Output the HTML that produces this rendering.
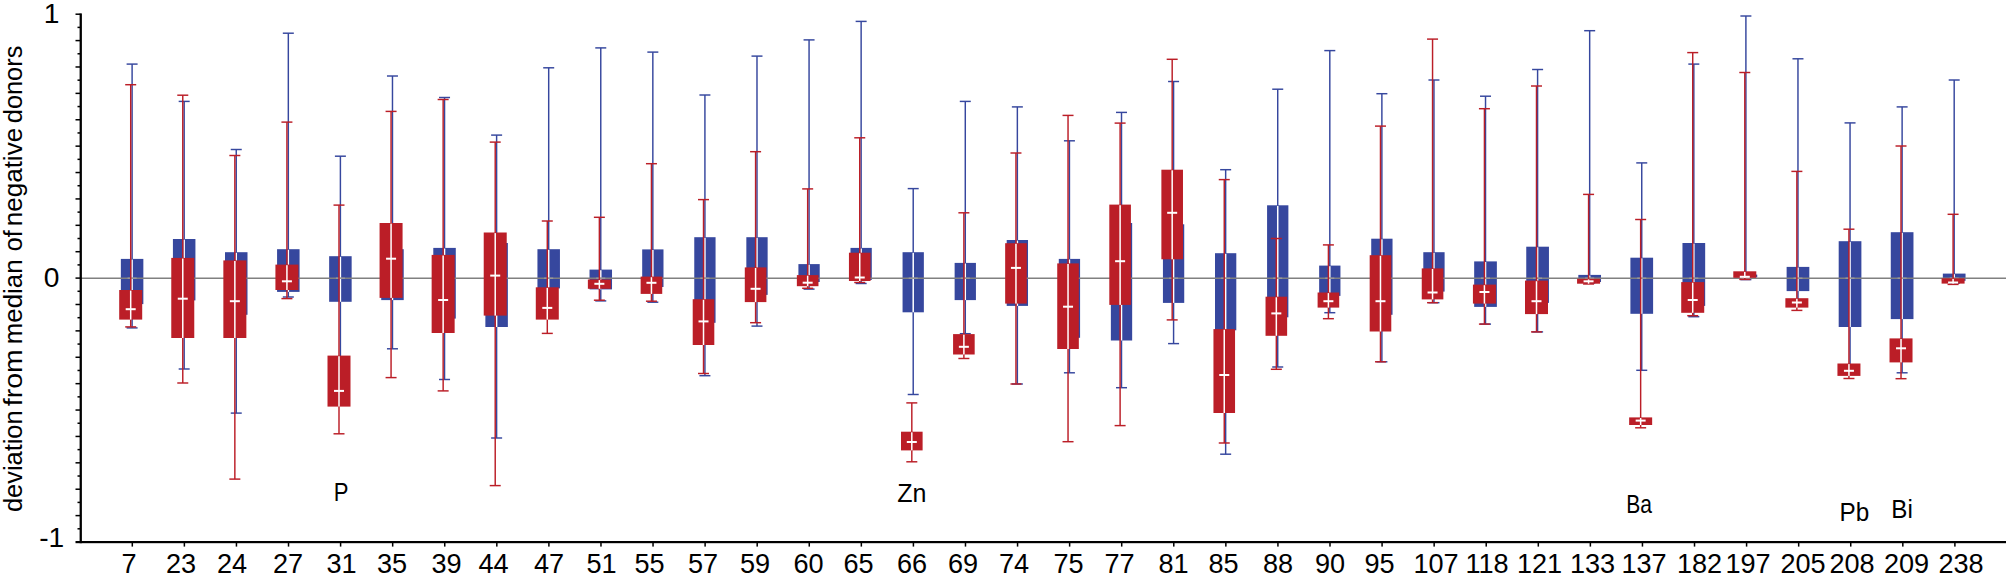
<!DOCTYPE html>
<html><head><meta charset="utf-8"><title>deviation from median of negative donors</title>
<style>
html,body{margin:0;padding:0;background:#fff;}
body{width:2006px;height:582px;overflow:hidden;}
svg{display:block;}
text{font-family:"Liberation Sans","DejaVu Sans",sans-serif;fill:#000;}
.num{font-size:27.1px;}
.ynum{font-size:28.2px;}
.el{font-size:25px;}
.ylab{font-size:25.2px;}
</style></head><body>
<svg width="2006" height="582" viewBox="0 0 2006 582">
<rect width="2006" height="582" fill="#fff"/>
<g id="blue">
<rect x="131.38" y="64.1" width="1.45" height="263.8" fill="#36479e"/>
<rect x="126.6" y="63.37" width="11" height="1.45" fill="#36479e"/>
<rect x="126.6" y="327.17" width="11" height="1.45" fill="#36479e"/>
<rect x="120.85" y="258.9" width="22.5" height="45.2" fill="#36479e"/>
<rect x="131.35" y="259.5" width="1.5" height="44.6" fill="#fff"/>
<rect x="183.45" y="101.4" width="1.45" height="267.6" fill="#36479e"/>
<rect x="178.67" y="100.68" width="11" height="1.45" fill="#36479e"/>
<rect x="178.67" y="368.27" width="11" height="1.45" fill="#36479e"/>
<rect x="172.92" y="239" width="22.5" height="61.4" fill="#36479e"/>
<rect x="183.42" y="239.6" width="1.5" height="60.8" fill="#fff"/>
<rect x="235.52" y="149.5" width="1.45" height="263.6" fill="#36479e"/>
<rect x="230.75" y="148.78" width="11" height="1.45" fill="#36479e"/>
<rect x="230.75" y="412.38" width="11" height="1.45" fill="#36479e"/>
<rect x="225" y="252.2" width="22.5" height="62.6" fill="#36479e"/>
<rect x="235.5" y="252.8" width="1.5" height="62" fill="#fff"/>
<rect x="287.6" y="33.2" width="1.45" height="263.8" fill="#36479e"/>
<rect x="282.82" y="32.48" width="11" height="1.45" fill="#36479e"/>
<rect x="282.82" y="296.27" width="11" height="1.45" fill="#36479e"/>
<rect x="277.07" y="249.2" width="22.5" height="42.7" fill="#36479e"/>
<rect x="287.57" y="249.8" width="1.5" height="42.1" fill="#fff"/>
<rect x="339.67" y="156.2" width="1.45" height="241.8" fill="#36479e"/>
<rect x="334.9" y="155.47" width="11" height="1.45" fill="#36479e"/>
<rect x="334.9" y="397.27" width="11" height="1.45" fill="#36479e"/>
<rect x="329.15" y="256.2" width="22.5" height="45.6" fill="#36479e"/>
<rect x="339.65" y="256.8" width="1.5" height="45" fill="#fff"/>
<rect x="391.75" y="76" width="1.45" height="272.8" fill="#36479e"/>
<rect x="386.97" y="75.28" width="11" height="1.45" fill="#36479e"/>
<rect x="386.97" y="348.07" width="11" height="1.45" fill="#36479e"/>
<rect x="381.22" y="249.2" width="22.5" height="50.9" fill="#36479e"/>
<rect x="391.72" y="249.8" width="1.5" height="50.3" fill="#fff"/>
<rect x="443.82" y="97.5" width="1.45" height="282" fill="#36479e"/>
<rect x="439.04" y="96.78" width="11" height="1.45" fill="#36479e"/>
<rect x="439.04" y="378.77" width="11" height="1.45" fill="#36479e"/>
<rect x="433.29" y="247.9" width="22.5" height="70.7" fill="#36479e"/>
<rect x="443.79" y="248.5" width="1.5" height="70.1" fill="#fff"/>
<rect x="495.89" y="135.1" width="1.45" height="302.9" fill="#36479e"/>
<rect x="491.12" y="134.38" width="11" height="1.45" fill="#36479e"/>
<rect x="491.12" y="437.27" width="11" height="1.45" fill="#36479e"/>
<rect x="485.37" y="243" width="22.5" height="84" fill="#36479e"/>
<rect x="495.87" y="243.6" width="1.5" height="83.4" fill="#fff"/>
<rect x="547.97" y="67.8" width="1.45" height="247.2" fill="#36479e"/>
<rect x="543.19" y="67.08" width="11" height="1.45" fill="#36479e"/>
<rect x="543.19" y="314.27" width="11" height="1.45" fill="#36479e"/>
<rect x="537.44" y="249.2" width="22.5" height="39.2" fill="#36479e"/>
<rect x="547.94" y="249.8" width="1.5" height="38.6" fill="#fff"/>
<rect x="600.04" y="47.9" width="1.45" height="253" fill="#36479e"/>
<rect x="595.27" y="47.17" width="11" height="1.45" fill="#36479e"/>
<rect x="595.27" y="300.17" width="11" height="1.45" fill="#36479e"/>
<rect x="589.52" y="269.6" width="22.5" height="19.8" fill="#36479e"/>
<rect x="600.02" y="270.2" width="1.5" height="19.2" fill="#fff"/>
<rect x="652.11" y="52.1" width="1.45" height="250.1" fill="#36479e"/>
<rect x="647.34" y="51.38" width="11" height="1.45" fill="#36479e"/>
<rect x="647.34" y="301.47" width="11" height="1.45" fill="#36479e"/>
<rect x="642.19" y="249.4" width="21.3" height="37.6" fill="#36479e"/>
<rect x="652.09" y="250" width="1.5" height="37" fill="#fff"/>
<rect x="704.19" y="95" width="1.45" height="280.7" fill="#36479e"/>
<rect x="699.41" y="94.28" width="11" height="1.45" fill="#36479e"/>
<rect x="699.41" y="374.97" width="11" height="1.45" fill="#36479e"/>
<rect x="694.26" y="237.2" width="21.3" height="85.6" fill="#36479e"/>
<rect x="704.16" y="237.8" width="1.5" height="85" fill="#fff"/>
<rect x="756.26" y="56.1" width="1.45" height="270" fill="#36479e"/>
<rect x="751.49" y="55.38" width="11" height="1.45" fill="#36479e"/>
<rect x="751.49" y="325.38" width="11" height="1.45" fill="#36479e"/>
<rect x="746.34" y="237.2" width="21.3" height="57.7" fill="#36479e"/>
<rect x="756.24" y="237.8" width="1.5" height="57.1" fill="#fff"/>
<rect x="808.34" y="39.9" width="1.45" height="249.2" fill="#36479e"/>
<rect x="803.56" y="39.17" width="11" height="1.45" fill="#36479e"/>
<rect x="803.56" y="288.38" width="11" height="1.45" fill="#36479e"/>
<rect x="798.41" y="264.1" width="21.3" height="17.9" fill="#36479e"/>
<rect x="808.31" y="264.7" width="1.5" height="17.3" fill="#fff"/>
<rect x="860.41" y="21.4" width="1.45" height="262.1" fill="#36479e"/>
<rect x="855.64" y="20.67" width="11" height="1.45" fill="#36479e"/>
<rect x="855.64" y="282.77" width="11" height="1.45" fill="#36479e"/>
<rect x="850.49" y="247.9" width="21.3" height="32.1" fill="#36479e"/>
<rect x="860.39" y="248.5" width="1.5" height="31.5" fill="#fff"/>
<rect x="912.49" y="188.6" width="1.45" height="205.9" fill="#36479e"/>
<rect x="907.71" y="187.88" width="11" height="1.45" fill="#36479e"/>
<rect x="907.71" y="393.77" width="11" height="1.45" fill="#36479e"/>
<rect x="902.56" y="252.2" width="21.3" height="60.1" fill="#36479e"/>
<rect x="912.46" y="252.8" width="1.5" height="59.5" fill="#fff"/>
<rect x="964.56" y="101.4" width="1.45" height="232.3" fill="#36479e"/>
<rect x="959.78" y="100.68" width="11" height="1.45" fill="#36479e"/>
<rect x="959.78" y="332.97" width="11" height="1.45" fill="#36479e"/>
<rect x="954.63" y="262.9" width="21.3" height="37.2" fill="#36479e"/>
<rect x="964.53" y="263.5" width="1.5" height="36.6" fill="#fff"/>
<rect x="1016.63" y="106.9" width="1.45" height="277.1" fill="#36479e"/>
<rect x="1011.86" y="106.18" width="11" height="1.45" fill="#36479e"/>
<rect x="1011.86" y="383.27" width="11" height="1.45" fill="#36479e"/>
<rect x="1006.71" y="240" width="21.3" height="65.9" fill="#36479e"/>
<rect x="1016.61" y="240.6" width="1.5" height="65.3" fill="#fff"/>
<rect x="1068.71" y="140.8" width="1.45" height="232" fill="#36479e"/>
<rect x="1063.93" y="140.08" width="11" height="1.45" fill="#36479e"/>
<rect x="1063.93" y="372.07" width="11" height="1.45" fill="#36479e"/>
<rect x="1058.78" y="258.9" width="21.3" height="78.9" fill="#36479e"/>
<rect x="1068.68" y="259.5" width="1.5" height="78.3" fill="#fff"/>
<rect x="1120.78" y="112.4" width="1.45" height="275.3" fill="#36479e"/>
<rect x="1116.01" y="111.68" width="11" height="1.45" fill="#36479e"/>
<rect x="1116.01" y="386.97" width="11" height="1.45" fill="#36479e"/>
<rect x="1110.86" y="223" width="21.3" height="117.5" fill="#36479e"/>
<rect x="1120.76" y="223.6" width="1.5" height="116.9" fill="#fff"/>
<rect x="1172.86" y="81.5" width="1.45" height="262.1" fill="#36479e"/>
<rect x="1168.08" y="80.78" width="11" height="1.45" fill="#36479e"/>
<rect x="1168.08" y="342.88" width="11" height="1.45" fill="#36479e"/>
<rect x="1162.93" y="224.3" width="21.3" height="78.6" fill="#36479e"/>
<rect x="1172.83" y="224.9" width="1.5" height="78" fill="#fff"/>
<rect x="1224.93" y="169.7" width="1.45" height="284.5" fill="#36479e"/>
<rect x="1220.15" y="168.97" width="11" height="1.45" fill="#36479e"/>
<rect x="1220.15" y="453.47" width="11" height="1.45" fill="#36479e"/>
<rect x="1215" y="253.2" width="21.3" height="77.1" fill="#36479e"/>
<rect x="1224.9" y="253.8" width="1.5" height="76.5" fill="#fff"/>
<rect x="1277" y="89.2" width="1.45" height="277.8" fill="#36479e"/>
<rect x="1272.23" y="88.48" width="11" height="1.45" fill="#36479e"/>
<rect x="1272.23" y="366.27" width="11" height="1.45" fill="#36479e"/>
<rect x="1267.08" y="205.3" width="21.3" height="112" fill="#36479e"/>
<rect x="1276.98" y="205.9" width="1.5" height="111.4" fill="#fff"/>
<rect x="1329.08" y="50.6" width="1.45" height="262.1" fill="#36479e"/>
<rect x="1324.3" y="49.88" width="11" height="1.45" fill="#36479e"/>
<rect x="1324.3" y="311.97" width="11" height="1.45" fill="#36479e"/>
<rect x="1319.15" y="265.6" width="21.3" height="30.3" fill="#36479e"/>
<rect x="1329.05" y="266.2" width="1.5" height="29.7" fill="#fff"/>
<rect x="1381.15" y="93.7" width="1.45" height="268.1" fill="#36479e"/>
<rect x="1376.38" y="92.98" width="11" height="1.45" fill="#36479e"/>
<rect x="1376.38" y="361.07" width="11" height="1.45" fill="#36479e"/>
<rect x="1371.23" y="238.7" width="21.3" height="76.1" fill="#36479e"/>
<rect x="1381.13" y="239.3" width="1.5" height="75.5" fill="#fff"/>
<rect x="1433.22" y="80" width="1.45" height="222.7" fill="#36479e"/>
<rect x="1428.45" y="79.28" width="11" height="1.45" fill="#36479e"/>
<rect x="1428.45" y="301.97" width="11" height="1.45" fill="#36479e"/>
<rect x="1423.3" y="252.2" width="21.3" height="39.4" fill="#36479e"/>
<rect x="1433.2" y="252.8" width="1.5" height="38.8" fill="#fff"/>
<rect x="1484.8" y="96.2" width="1.45" height="227.9" fill="#36479e"/>
<rect x="1480.02" y="95.48" width="11" height="1.45" fill="#36479e"/>
<rect x="1480.02" y="323.38" width="11" height="1.45" fill="#36479e"/>
<rect x="1474.17" y="261.4" width="22.7" height="45.5" fill="#36479e"/>
<rect x="1484.77" y="262" width="1.5" height="44.9" fill="#fff"/>
<rect x="1536.87" y="69.5" width="1.45" height="262.4" fill="#36479e"/>
<rect x="1532.1" y="68.78" width="11" height="1.45" fill="#36479e"/>
<rect x="1532.1" y="331.17" width="11" height="1.45" fill="#36479e"/>
<rect x="1526.25" y="246.7" width="22.7" height="56.2" fill="#36479e"/>
<rect x="1536.85" y="247.3" width="1.5" height="55.6" fill="#fff"/>
<rect x="1588.95" y="30.7" width="1.45" height="252.3" fill="#36479e"/>
<rect x="1584.17" y="29.97" width="11" height="1.45" fill="#36479e"/>
<rect x="1584.17" y="282.27" width="11" height="1.45" fill="#36479e"/>
<rect x="1578.32" y="274.9" width="22.7" height="7.1" fill="#36479e"/>
<rect x="1588.92" y="275.5" width="1.5" height="6.5" fill="#fff"/>
<rect x="1641.02" y="162.9" width="1.45" height="207.4" fill="#36479e"/>
<rect x="1636.25" y="162.18" width="11" height="1.45" fill="#36479e"/>
<rect x="1636.25" y="369.57" width="11" height="1.45" fill="#36479e"/>
<rect x="1630.4" y="257.7" width="22.7" height="56.1" fill="#36479e"/>
<rect x="1641" y="258.3" width="1.5" height="55.5" fill="#fff"/>
<rect x="1693.1" y="64.1" width="1.45" height="252.6" fill="#36479e"/>
<rect x="1688.32" y="63.37" width="11" height="1.45" fill="#36479e"/>
<rect x="1688.32" y="315.97" width="11" height="1.45" fill="#36479e"/>
<rect x="1682.47" y="243" width="22.7" height="62.9" fill="#36479e"/>
<rect x="1693.07" y="243.6" width="1.5" height="62.3" fill="#fff"/>
<rect x="1745.17" y="16" width="1.45" height="263.6" fill="#36479e"/>
<rect x="1740.39" y="15.28" width="11" height="1.45" fill="#36479e"/>
<rect x="1740.39" y="278.88" width="11" height="1.45" fill="#36479e"/>
<rect x="1734.54" y="274.6" width="22.7" height="2.7" fill="#36479e"/>
<rect x="1745.14" y="275.2" width="1.5" height="2.1" fill="#fff"/>
<rect x="1797.24" y="58.8" width="1.45" height="246.2" fill="#36479e"/>
<rect x="1792.47" y="58.07" width="11" height="1.45" fill="#36479e"/>
<rect x="1792.47" y="304.27" width="11" height="1.45" fill="#36479e"/>
<rect x="1786.62" y="266.9" width="22.7" height="24.2" fill="#36479e"/>
<rect x="1797.22" y="267.5" width="1.5" height="23.6" fill="#fff"/>
<rect x="1849.32" y="122.9" width="1.45" height="249.1" fill="#36479e"/>
<rect x="1844.54" y="122.18" width="11" height="1.45" fill="#36479e"/>
<rect x="1844.54" y="371.27" width="11" height="1.45" fill="#36479e"/>
<rect x="1838.69" y="241.2" width="22.7" height="85.8" fill="#36479e"/>
<rect x="1849.29" y="241.8" width="1.5" height="85.2" fill="#fff"/>
<rect x="1901.39" y="106.9" width="1.45" height="265.9" fill="#36479e"/>
<rect x="1896.62" y="106.18" width="11" height="1.45" fill="#36479e"/>
<rect x="1896.62" y="372.07" width="11" height="1.45" fill="#36479e"/>
<rect x="1890.77" y="232.2" width="22.7" height="86.9" fill="#36479e"/>
<rect x="1901.37" y="232.8" width="1.5" height="86.3" fill="#fff"/>
<rect x="1953.46" y="80" width="1.45" height="203.2" fill="#36479e"/>
<rect x="1948.69" y="79.28" width="11" height="1.45" fill="#36479e"/>
<rect x="1948.69" y="282.47" width="11" height="1.45" fill="#36479e"/>
<rect x="1942.84" y="273.6" width="22.7" height="7.2" fill="#36479e"/>
<rect x="1953.44" y="274.2" width="1.5" height="6.6" fill="#fff"/>
</g>
<rect x="80" y="277.5" width="1926" height="1.5" fill="#808080"/>
<g id="bmed">
<rect x="127.6" y="277.6" width="9" height="1" fill="#a6a6a6"/>
<rect x="179.67" y="277.6" width="9" height="1" fill="#a6a6a6"/>
<rect x="231.75" y="277.6" width="9" height="1" fill="#a6a6a6"/>
<rect x="283.82" y="277.6" width="9" height="1" fill="#a6a6a6"/>
<rect x="335.9" y="277.6" width="9" height="1" fill="#a6a6a6"/>
<rect x="387.97" y="277.6" width="9" height="1" fill="#a6a6a6"/>
<rect x="440.04" y="277.6" width="9" height="1" fill="#a6a6a6"/>
<rect x="492.12" y="277.6" width="9" height="1" fill="#a6a6a6"/>
<rect x="544.19" y="277.6" width="9" height="1" fill="#a6a6a6"/>
<rect x="596.27" y="277.6" width="9" height="1" fill="#a6a6a6"/>
<rect x="648.34" y="277.6" width="9" height="1" fill="#a6a6a6"/>
<rect x="700.41" y="277.6" width="9" height="1" fill="#a6a6a6"/>
<rect x="752.49" y="277.6" width="9" height="1" fill="#a6a6a6"/>
<rect x="804.56" y="277.6" width="9" height="1" fill="#a6a6a6"/>
<rect x="856.64" y="277.6" width="9" height="1" fill="#a6a6a6"/>
<rect x="908.71" y="277.6" width="9" height="1" fill="#a6a6a6"/>
<rect x="960.78" y="277.6" width="9" height="1" fill="#a6a6a6"/>
<rect x="1012.86" y="277.6" width="9" height="1" fill="#a6a6a6"/>
<rect x="1064.93" y="277.6" width="9" height="1" fill="#a6a6a6"/>
<rect x="1117.01" y="277.6" width="9" height="1" fill="#a6a6a6"/>
<rect x="1169.08" y="277.6" width="9" height="1" fill="#a6a6a6"/>
<rect x="1221.15" y="277.6" width="9" height="1" fill="#a6a6a6"/>
<rect x="1273.23" y="277.6" width="9" height="1" fill="#a6a6a6"/>
<rect x="1325.3" y="277.6" width="9" height="1" fill="#a6a6a6"/>
<rect x="1377.38" y="277.6" width="9" height="1" fill="#a6a6a6"/>
<rect x="1429.45" y="277.6" width="9" height="1" fill="#a6a6a6"/>
<rect x="1481.02" y="277.6" width="9" height="1" fill="#a6a6a6"/>
<rect x="1533.1" y="277.6" width="9" height="1" fill="#a6a6a6"/>
<rect x="1585.17" y="277.6" width="9" height="1" fill="#a6a6a6"/>
<rect x="1637.25" y="277.6" width="9" height="1" fill="#a6a6a6"/>
<rect x="1689.32" y="277.6" width="9" height="1" fill="#a6a6a6"/>
<rect x="1741.39" y="277.6" width="9" height="1" fill="#a6a6a6"/>
<rect x="1793.47" y="277.6" width="9" height="1" fill="#a6a6a6"/>
<rect x="1845.54" y="277.6" width="9" height="1" fill="#a6a6a6"/>
<rect x="1897.62" y="277.6" width="9" height="1" fill="#a6a6a6"/>
<rect x="1949.69" y="277.6" width="9" height="1" fill="#a6a6a6"/>
</g>
<g id="red">
<rect x="129.98" y="84.7" width="1.45" height="242.2" fill="#bb1e27"/>
<rect x="125.2" y="83.98" width="11" height="1.45" fill="#bb1e27"/>
<rect x="125.2" y="326.17" width="11" height="1.45" fill="#bb1e27"/>
<rect x="119.2" y="290" width="23" height="29.6" fill="#bb1e27"/>
<rect x="129.95" y="290.6" width="1.5" height="29" fill="#fff"/>
<rect x="125.7" y="308.2" width="10" height="2" fill="#fff"/>
<rect x="182.05" y="95.2" width="1.45" height="287.8" fill="#bb1e27"/>
<rect x="177.27" y="94.48" width="11" height="1.45" fill="#bb1e27"/>
<rect x="177.27" y="382.27" width="11" height="1.45" fill="#bb1e27"/>
<rect x="171.27" y="257.9" width="23" height="80.1" fill="#bb1e27"/>
<rect x="182.02" y="258.5" width="1.5" height="79.5" fill="#fff"/>
<rect x="177.77" y="297.7" width="10" height="2" fill="#fff"/>
<rect x="234.12" y="155.5" width="1.45" height="323.6" fill="#bb1e27"/>
<rect x="229.35" y="154.78" width="11" height="1.45" fill="#bb1e27"/>
<rect x="229.35" y="478.38" width="11" height="1.45" fill="#bb1e27"/>
<rect x="223.35" y="260.4" width="23" height="77.6" fill="#bb1e27"/>
<rect x="234.1" y="261" width="1.5" height="77" fill="#fff"/>
<rect x="229.85" y="300.2" width="10" height="2" fill="#fff"/>
<rect x="286.2" y="122.1" width="1.45" height="176.5" fill="#bb1e27"/>
<rect x="281.42" y="121.38" width="11" height="1.45" fill="#bb1e27"/>
<rect x="281.42" y="297.88" width="11" height="1.45" fill="#bb1e27"/>
<rect x="275.42" y="264.6" width="23" height="25.4" fill="#bb1e27"/>
<rect x="286.17" y="265.2" width="1.5" height="24.8" fill="#fff"/>
<rect x="281.92" y="280.3" width="10" height="2" fill="#fff"/>
<rect x="338.27" y="205.1" width="1.45" height="228.7" fill="#bb1e27"/>
<rect x="333.5" y="204.38" width="11" height="1.45" fill="#bb1e27"/>
<rect x="333.5" y="433.07" width="11" height="1.45" fill="#bb1e27"/>
<rect x="327.5" y="355.6" width="23" height="51" fill="#bb1e27"/>
<rect x="338.25" y="356.2" width="1.5" height="50.4" fill="#fff"/>
<rect x="334" y="389.9" width="10" height="2" fill="#fff"/>
<rect x="390.34" y="111.4" width="1.45" height="266.2" fill="#bb1e27"/>
<rect x="385.57" y="110.68" width="11" height="1.45" fill="#bb1e27"/>
<rect x="385.57" y="376.88" width="11" height="1.45" fill="#bb1e27"/>
<rect x="379.57" y="223" width="23" height="74.9" fill="#bb1e27"/>
<rect x="390.32" y="223.6" width="1.5" height="74.3" fill="#fff"/>
<rect x="386.07" y="257.7" width="10" height="2" fill="#fff"/>
<rect x="442.42" y="99.5" width="1.45" height="291.4" fill="#bb1e27"/>
<rect x="437.64" y="98.78" width="11" height="1.45" fill="#bb1e27"/>
<rect x="437.64" y="390.17" width="11" height="1.45" fill="#bb1e27"/>
<rect x="431.64" y="254.9" width="23" height="78.1" fill="#bb1e27"/>
<rect x="442.39" y="255.5" width="1.5" height="77.5" fill="#fff"/>
<rect x="438.14" y="299" width="10" height="2" fill="#fff"/>
<rect x="494.49" y="142.1" width="1.45" height="343.5" fill="#bb1e27"/>
<rect x="489.72" y="141.38" width="11" height="1.45" fill="#bb1e27"/>
<rect x="489.72" y="484.88" width="11" height="1.45" fill="#bb1e27"/>
<rect x="483.72" y="232.5" width="23" height="83.1" fill="#bb1e27"/>
<rect x="494.47" y="233.1" width="1.5" height="82.5" fill="#fff"/>
<rect x="490.22" y="274.6" width="10" height="2" fill="#fff"/>
<rect x="546.57" y="221" width="1.45" height="112.4" fill="#bb1e27"/>
<rect x="541.79" y="220.28" width="11" height="1.45" fill="#bb1e27"/>
<rect x="541.79" y="332.67" width="11" height="1.45" fill="#bb1e27"/>
<rect x="535.79" y="287.3" width="23" height="32.3" fill="#bb1e27"/>
<rect x="546.54" y="287.9" width="1.5" height="31.7" fill="#fff"/>
<rect x="542.29" y="306.9" width="10" height="2" fill="#fff"/>
<rect x="598.64" y="217.3" width="1.45" height="82.9" fill="#bb1e27"/>
<rect x="593.87" y="216.58" width="11" height="1.45" fill="#bb1e27"/>
<rect x="593.87" y="299.47" width="11" height="1.45" fill="#bb1e27"/>
<rect x="587.87" y="279.5" width="23" height="9.3" fill="#bb1e27"/>
<rect x="598.62" y="280.1" width="1.5" height="8.7" fill="#fff"/>
<rect x="594.37" y="282.8" width="10" height="2" fill="#fff"/>
<rect x="650.71" y="163.7" width="1.45" height="137.5" fill="#bb1e27"/>
<rect x="645.94" y="162.97" width="11" height="1.45" fill="#bb1e27"/>
<rect x="645.94" y="300.47" width="11" height="1.45" fill="#bb1e27"/>
<rect x="640.64" y="276.6" width="21.6" height="17.3" fill="#bb1e27"/>
<rect x="650.69" y="277.2" width="1.5" height="16.7" fill="#fff"/>
<rect x="646.44" y="281.8" width="10" height="2" fill="#fff"/>
<rect x="702.79" y="199.6" width="1.45" height="173.9" fill="#bb1e27"/>
<rect x="698.01" y="198.88" width="11" height="1.45" fill="#bb1e27"/>
<rect x="698.01" y="372.77" width="11" height="1.45" fill="#bb1e27"/>
<rect x="692.71" y="299.2" width="21.6" height="45.8" fill="#bb1e27"/>
<rect x="702.76" y="299.8" width="1.5" height="45.2" fill="#fff"/>
<rect x="698.51" y="320.4" width="10" height="2" fill="#fff"/>
<rect x="754.86" y="151.7" width="1.45" height="171" fill="#bb1e27"/>
<rect x="750.09" y="150.97" width="11" height="1.45" fill="#bb1e27"/>
<rect x="750.09" y="321.97" width="11" height="1.45" fill="#bb1e27"/>
<rect x="744.79" y="267.4" width="21.6" height="34.7" fill="#bb1e27"/>
<rect x="754.84" y="268" width="1.5" height="34.1" fill="#fff"/>
<rect x="750.59" y="287.8" width="10" height="2" fill="#fff"/>
<rect x="806.94" y="188.9" width="1.45" height="99.4" fill="#bb1e27"/>
<rect x="802.16" y="188.18" width="11" height="1.45" fill="#bb1e27"/>
<rect x="802.16" y="287.57" width="11" height="1.45" fill="#bb1e27"/>
<rect x="796.86" y="275.1" width="21.6" height="11.1" fill="#bb1e27"/>
<rect x="806.91" y="275.7" width="1.5" height="10.5" fill="#fff"/>
<rect x="802.66" y="281.7" width="10" height="2" fill="#fff"/>
<rect x="859.01" y="137.8" width="1.45" height="144.7" fill="#bb1e27"/>
<rect x="854.24" y="137.08" width="11" height="1.45" fill="#bb1e27"/>
<rect x="854.24" y="281.77" width="11" height="1.45" fill="#bb1e27"/>
<rect x="848.94" y="252.7" width="21.6" height="28.3" fill="#bb1e27"/>
<rect x="858.99" y="253.3" width="1.5" height="27.7" fill="#fff"/>
<rect x="854.74" y="276.5" width="10" height="2" fill="#fff"/>
<rect x="911.09" y="402.9" width="1.45" height="58.9" fill="#bb1e27"/>
<rect x="906.31" y="402.17" width="11" height="1.45" fill="#bb1e27"/>
<rect x="906.31" y="461.07" width="11" height="1.45" fill="#bb1e27"/>
<rect x="901.01" y="431.7" width="21.6" height="18.7" fill="#bb1e27"/>
<rect x="911.06" y="432.3" width="1.5" height="18.1" fill="#fff"/>
<rect x="906.81" y="441" width="10" height="2" fill="#fff"/>
<rect x="963.16" y="212.8" width="1.45" height="145.7" fill="#bb1e27"/>
<rect x="958.38" y="212.08" width="11" height="1.45" fill="#bb1e27"/>
<rect x="958.38" y="357.77" width="11" height="1.45" fill="#bb1e27"/>
<rect x="953.08" y="334.1" width="21.6" height="20.4" fill="#bb1e27"/>
<rect x="963.13" y="334.7" width="1.5" height="19.8" fill="#fff"/>
<rect x="958.88" y="345.8" width="10" height="2" fill="#fff"/>
<rect x="1015.23" y="153" width="1.45" height="231" fill="#bb1e27"/>
<rect x="1010.46" y="152.28" width="11" height="1.45" fill="#bb1e27"/>
<rect x="1010.46" y="383.27" width="11" height="1.45" fill="#bb1e27"/>
<rect x="1005.16" y="243.2" width="21.6" height="60.4" fill="#bb1e27"/>
<rect x="1015.21" y="243.8" width="1.5" height="59.8" fill="#fff"/>
<rect x="1010.96" y="266.9" width="10" height="2" fill="#fff"/>
<rect x="1067.31" y="115.4" width="1.45" height="326.3" fill="#bb1e27"/>
<rect x="1062.53" y="114.68" width="11" height="1.45" fill="#bb1e27"/>
<rect x="1062.53" y="440.97" width="11" height="1.45" fill="#bb1e27"/>
<rect x="1057.23" y="263.4" width="21.6" height="85.6" fill="#bb1e27"/>
<rect x="1067.28" y="264" width="1.5" height="85" fill="#fff"/>
<rect x="1063.03" y="305.7" width="10" height="2" fill="#fff"/>
<rect x="1119.38" y="123.1" width="1.45" height="302.5" fill="#bb1e27"/>
<rect x="1114.61" y="122.38" width="11" height="1.45" fill="#bb1e27"/>
<rect x="1114.61" y="424.88" width="11" height="1.45" fill="#bb1e27"/>
<rect x="1109.31" y="204.6" width="21.6" height="100.3" fill="#bb1e27"/>
<rect x="1119.36" y="205.2" width="1.5" height="99.7" fill="#fff"/>
<rect x="1115.11" y="260.2" width="10" height="2" fill="#fff"/>
<rect x="1171.46" y="59.3" width="1.45" height="260.6" fill="#bb1e27"/>
<rect x="1166.68" y="58.57" width="11" height="1.45" fill="#bb1e27"/>
<rect x="1166.68" y="319.17" width="11" height="1.45" fill="#bb1e27"/>
<rect x="1161.38" y="169.7" width="21.6" height="89.6" fill="#bb1e27"/>
<rect x="1171.43" y="170.3" width="1.5" height="89" fill="#fff"/>
<rect x="1167.18" y="211.8" width="10" height="2" fill="#fff"/>
<rect x="1223.53" y="179.6" width="1.45" height="263.4" fill="#bb1e27"/>
<rect x="1218.75" y="178.88" width="11" height="1.45" fill="#bb1e27"/>
<rect x="1218.75" y="442.27" width="11" height="1.45" fill="#bb1e27"/>
<rect x="1213.45" y="329.1" width="21.6" height="83.9" fill="#bb1e27"/>
<rect x="1223.5" y="329.7" width="1.5" height="83.3" fill="#fff"/>
<rect x="1219.25" y="374" width="10" height="2" fill="#fff"/>
<rect x="1275.6" y="238.5" width="1.45" height="130.8" fill="#bb1e27"/>
<rect x="1270.83" y="237.78" width="11" height="1.45" fill="#bb1e27"/>
<rect x="1270.83" y="368.57" width="11" height="1.45" fill="#bb1e27"/>
<rect x="1265.53" y="296.7" width="21.6" height="39.1" fill="#bb1e27"/>
<rect x="1275.58" y="297.3" width="1.5" height="38.5" fill="#fff"/>
<rect x="1271.33" y="312.4" width="10" height="2" fill="#fff"/>
<rect x="1327.68" y="244.9" width="1.45" height="73.8" fill="#bb1e27"/>
<rect x="1322.9" y="244.18" width="11" height="1.45" fill="#bb1e27"/>
<rect x="1322.9" y="317.97" width="11" height="1.45" fill="#bb1e27"/>
<rect x="1317.6" y="292.5" width="21.6" height="15.1" fill="#bb1e27"/>
<rect x="1327.65" y="293.1" width="1.5" height="14.5" fill="#fff"/>
<rect x="1323.4" y="300.2" width="10" height="2" fill="#fff"/>
<rect x="1379.75" y="126.1" width="1.45" height="235.7" fill="#bb1e27"/>
<rect x="1374.98" y="125.38" width="11" height="1.45" fill="#bb1e27"/>
<rect x="1374.98" y="361.07" width="11" height="1.45" fill="#bb1e27"/>
<rect x="1369.68" y="255.2" width="21.6" height="76.3" fill="#bb1e27"/>
<rect x="1379.73" y="255.8" width="1.5" height="75.7" fill="#fff"/>
<rect x="1375.48" y="300.2" width="10" height="2" fill="#fff"/>
<rect x="1431.83" y="39.1" width="1.45" height="263.6" fill="#bb1e27"/>
<rect x="1427.05" y="38.38" width="11" height="1.45" fill="#bb1e27"/>
<rect x="1427.05" y="301.97" width="11" height="1.45" fill="#bb1e27"/>
<rect x="1421.75" y="268.4" width="21.6" height="31" fill="#bb1e27"/>
<rect x="1431.8" y="269" width="1.5" height="30.4" fill="#fff"/>
<rect x="1427.55" y="291.5" width="10" height="2" fill="#fff"/>
<rect x="1483.7" y="108.7" width="1.45" height="215.4" fill="#bb1e27"/>
<rect x="1478.92" y="107.98" width="11" height="1.45" fill="#bb1e27"/>
<rect x="1478.92" y="323.38" width="11" height="1.45" fill="#bb1e27"/>
<rect x="1472.92" y="284.6" width="23" height="19" fill="#bb1e27"/>
<rect x="1483.67" y="285.2" width="1.5" height="18.4" fill="#fff"/>
<rect x="1479.42" y="291" width="10" height="2" fill="#fff"/>
<rect x="1535.77" y="86" width="1.45" height="245.9" fill="#bb1e27"/>
<rect x="1531" y="85.28" width="11" height="1.45" fill="#bb1e27"/>
<rect x="1531" y="331.17" width="11" height="1.45" fill="#bb1e27"/>
<rect x="1525" y="280.6" width="23" height="33.5" fill="#bb1e27"/>
<rect x="1535.75" y="281.2" width="1.5" height="32.9" fill="#fff"/>
<rect x="1531.5" y="300.2" width="10" height="2" fill="#fff"/>
<rect x="1587.85" y="194.4" width="1.45" height="89.6" fill="#bb1e27"/>
<rect x="1583.07" y="193.68" width="11" height="1.45" fill="#bb1e27"/>
<rect x="1583.07" y="283.27" width="11" height="1.45" fill="#bb1e27"/>
<rect x="1577.07" y="278.8" width="23" height="4.9" fill="#bb1e27"/>
<rect x="1587.82" y="279.4" width="1.5" height="4.3" fill="#fff"/>
<rect x="1583.57" y="280.3" width="10" height="2" fill="#fff"/>
<rect x="1639.92" y="219.5" width="1.45" height="208.3" fill="#bb1e27"/>
<rect x="1635.15" y="218.78" width="11" height="1.45" fill="#bb1e27"/>
<rect x="1635.15" y="427.07" width="11" height="1.45" fill="#bb1e27"/>
<rect x="1629.15" y="417.4" width="23" height="7.6" fill="#bb1e27"/>
<rect x="1639.9" y="418" width="1.5" height="7" fill="#fff"/>
<rect x="1635.65" y="419.6" width="10" height="2" fill="#fff"/>
<rect x="1692" y="52.6" width="1.45" height="263.1" fill="#bb1e27"/>
<rect x="1687.22" y="51.88" width="11" height="1.45" fill="#bb1e27"/>
<rect x="1687.22" y="314.97" width="11" height="1.45" fill="#bb1e27"/>
<rect x="1681.22" y="282.1" width="23" height="30.7" fill="#bb1e27"/>
<rect x="1691.97" y="282.7" width="1.5" height="30.1" fill="#fff"/>
<rect x="1687.72" y="299" width="10" height="2" fill="#fff"/>
<rect x="1744.07" y="72.5" width="1.45" height="206.9" fill="#bb1e27"/>
<rect x="1739.29" y="71.78" width="11" height="1.45" fill="#bb1e27"/>
<rect x="1739.29" y="278.67" width="11" height="1.45" fill="#bb1e27"/>
<rect x="1733.29" y="271.3" width="23" height="6.5" fill="#bb1e27"/>
<rect x="1744.04" y="271.9" width="1.5" height="5.9" fill="#fff"/>
<rect x="1739.79" y="275.8" width="10" height="2" fill="#fff"/>
<rect x="1796.14" y="171.4" width="1.45" height="139" fill="#bb1e27"/>
<rect x="1791.37" y="170.68" width="11" height="1.45" fill="#bb1e27"/>
<rect x="1791.37" y="309.67" width="11" height="1.45" fill="#bb1e27"/>
<rect x="1785.37" y="298.2" width="23" height="9.4" fill="#bb1e27"/>
<rect x="1796.12" y="298.8" width="1.5" height="8.8" fill="#fff"/>
<rect x="1791.87" y="301.5" width="10" height="2" fill="#fff"/>
<rect x="1848.22" y="229.2" width="1.45" height="149.3" fill="#bb1e27"/>
<rect x="1843.44" y="228.47" width="11" height="1.45" fill="#bb1e27"/>
<rect x="1843.44" y="377.77" width="11" height="1.45" fill="#bb1e27"/>
<rect x="1837.44" y="363.5" width="23" height="12.4" fill="#bb1e27"/>
<rect x="1848.19" y="364.1" width="1.5" height="11.8" fill="#fff"/>
<rect x="1843.94" y="369.8" width="10" height="2" fill="#fff"/>
<rect x="1900.29" y="146" width="1.45" height="232.7" fill="#bb1e27"/>
<rect x="1895.52" y="145.28" width="11" height="1.45" fill="#bb1e27"/>
<rect x="1895.52" y="377.97" width="11" height="1.45" fill="#bb1e27"/>
<rect x="1889.52" y="338.4" width="23" height="24" fill="#bb1e27"/>
<rect x="1900.27" y="339" width="1.5" height="23.4" fill="#fff"/>
<rect x="1896.02" y="347.3" width="10" height="2" fill="#fff"/>
<rect x="1952.37" y="214.3" width="1.45" height="70.1" fill="#bb1e27"/>
<rect x="1947.59" y="213.58" width="11" height="1.45" fill="#bb1e27"/>
<rect x="1947.59" y="283.67" width="11" height="1.45" fill="#bb1e27"/>
<rect x="1941.59" y="278.3" width="23" height="5.3" fill="#bb1e27"/>
<rect x="1952.34" y="278.9" width="1.5" height="4.7" fill="#fff"/>
<rect x="1948.09" y="281.5" width="10" height="2" fill="#fff"/>
</g>
<g id="axes">
<rect x="79.6" y="13.4" width="2.3" height="529.8" fill="#000"/>
<rect x="75.5" y="541" width="1930.5" height="2.2" fill="#000"/>
<rect x="75.5" y="13.45" width="5" height="1.5" fill="#000"/>
<rect x="77.5" y="26.64" width="3" height="1.5" fill="#000"/>
<rect x="75.5" y="39.84" width="5" height="1.5" fill="#000"/>
<rect x="77.5" y="53.03" width="3" height="1.5" fill="#000"/>
<rect x="75.5" y="66.23" width="5" height="1.5" fill="#000"/>
<rect x="77.5" y="79.42" width="3" height="1.5" fill="#000"/>
<rect x="75.5" y="92.62" width="5" height="1.5" fill="#000"/>
<rect x="77.5" y="105.81" width="3" height="1.5" fill="#000"/>
<rect x="75.5" y="119.01" width="5" height="1.5" fill="#000"/>
<rect x="77.5" y="132.2" width="3" height="1.5" fill="#000"/>
<rect x="75.5" y="145.4" width="5" height="1.5" fill="#000"/>
<rect x="77.5" y="158.59" width="3" height="1.5" fill="#000"/>
<rect x="75.5" y="171.79" width="5" height="1.5" fill="#000"/>
<rect x="77.5" y="184.98" width="3" height="1.5" fill="#000"/>
<rect x="75.5" y="198.18" width="5" height="1.5" fill="#000"/>
<rect x="77.5" y="211.37" width="3" height="1.5" fill="#000"/>
<rect x="75.5" y="224.57" width="5" height="1.5" fill="#000"/>
<rect x="77.5" y="237.76" width="3" height="1.5" fill="#000"/>
<rect x="75.5" y="250.96" width="5" height="1.5" fill="#000"/>
<rect x="77.5" y="264.15" width="3" height="1.5" fill="#000"/>
<rect x="75.5" y="277.35" width="5" height="1.5" fill="#000"/>
<rect x="77.5" y="290.54" width="3" height="1.5" fill="#000"/>
<rect x="75.5" y="303.74" width="5" height="1.5" fill="#000"/>
<rect x="77.5" y="316.94" width="3" height="1.5" fill="#000"/>
<rect x="75.5" y="330.13" width="5" height="1.5" fill="#000"/>
<rect x="77.5" y="343.32" width="3" height="1.5" fill="#000"/>
<rect x="75.5" y="356.52" width="5" height="1.5" fill="#000"/>
<rect x="77.5" y="369.71" width="3" height="1.5" fill="#000"/>
<rect x="75.5" y="382.91" width="5" height="1.5" fill="#000"/>
<rect x="77.5" y="396.1" width="3" height="1.5" fill="#000"/>
<rect x="75.5" y="409.3" width="5" height="1.5" fill="#000"/>
<rect x="77.5" y="422.49" width="3" height="1.5" fill="#000"/>
<rect x="75.5" y="435.69" width="5" height="1.5" fill="#000"/>
<rect x="77.5" y="448.88" width="3" height="1.5" fill="#000"/>
<rect x="75.5" y="462.08" width="5" height="1.5" fill="#000"/>
<rect x="77.5" y="475.27" width="3" height="1.5" fill="#000"/>
<rect x="75.5" y="488.47" width="5" height="1.5" fill="#000"/>
<rect x="77.5" y="501.66" width="3" height="1.5" fill="#000"/>
<rect x="75.5" y="514.86" width="5" height="1.5" fill="#000"/>
<rect x="77.5" y="528.05" width="3" height="1.5" fill="#000"/>
<rect x="131.55" y="542" width="1.5" height="4.6" fill="#000"/>
<rect x="183.62" y="542" width="1.5" height="4.6" fill="#000"/>
<rect x="235.7" y="542" width="1.5" height="4.6" fill="#000"/>
<rect x="287.77" y="542" width="1.5" height="4.6" fill="#000"/>
<rect x="339.85" y="542" width="1.5" height="4.6" fill="#000"/>
<rect x="391.92" y="542" width="1.5" height="4.6" fill="#000"/>
<rect x="443.99" y="542" width="1.5" height="4.6" fill="#000"/>
<rect x="496.07" y="542" width="1.5" height="4.6" fill="#000"/>
<rect x="548.14" y="542" width="1.5" height="4.6" fill="#000"/>
<rect x="600.22" y="542" width="1.5" height="4.6" fill="#000"/>
<rect x="652.29" y="542" width="1.5" height="4.6" fill="#000"/>
<rect x="704.36" y="542" width="1.5" height="4.6" fill="#000"/>
<rect x="756.44" y="542" width="1.5" height="4.6" fill="#000"/>
<rect x="808.51" y="542" width="1.5" height="4.6" fill="#000"/>
<rect x="860.59" y="542" width="1.5" height="4.6" fill="#000"/>
<rect x="912.66" y="542" width="1.5" height="4.6" fill="#000"/>
<rect x="964.73" y="542" width="1.5" height="4.6" fill="#000"/>
<rect x="1016.81" y="542" width="1.5" height="4.6" fill="#000"/>
<rect x="1068.88" y="542" width="1.5" height="4.6" fill="#000"/>
<rect x="1120.96" y="542" width="1.5" height="4.6" fill="#000"/>
<rect x="1173.03" y="542" width="1.5" height="4.6" fill="#000"/>
<rect x="1225.1" y="542" width="1.5" height="4.6" fill="#000"/>
<rect x="1277.18" y="542" width="1.5" height="4.6" fill="#000"/>
<rect x="1329.25" y="542" width="1.5" height="4.6" fill="#000"/>
<rect x="1381.33" y="542" width="1.5" height="4.6" fill="#000"/>
<rect x="1433.4" y="542" width="1.5" height="4.6" fill="#000"/>
<rect x="1485.47" y="542" width="1.5" height="4.6" fill="#000"/>
<rect x="1537.55" y="542" width="1.5" height="4.6" fill="#000"/>
<rect x="1589.62" y="542" width="1.5" height="4.6" fill="#000"/>
<rect x="1641.7" y="542" width="1.5" height="4.6" fill="#000"/>
<rect x="1693.77" y="542" width="1.5" height="4.6" fill="#000"/>
<rect x="1745.84" y="542" width="1.5" height="4.6" fill="#000"/>
<rect x="1797.92" y="542" width="1.5" height="4.6" fill="#000"/>
<rect x="1849.99" y="542" width="1.5" height="4.6" fill="#000"/>
<rect x="1902.07" y="542" width="1.5" height="4.6" fill="#000"/>
<rect x="1954.14" y="542" width="1.5" height="4.6" fill="#000"/>
</g>
<g id="labels">
<text x="129" y="573.3" text-anchor="middle" class="num">7</text>
<text x="181" y="573.3" text-anchor="middle" class="num">23</text>
<text x="232" y="573.3" text-anchor="middle" class="num">24</text>
<text x="288" y="573.3" text-anchor="middle" class="num">27</text>
<text x="341.5" y="573.3" text-anchor="middle" class="num">31</text>
<text x="392" y="573.3" text-anchor="middle" class="num">35</text>
<text x="446.5" y="573.3" text-anchor="middle" class="num">39</text>
<text x="493.5" y="573.3" text-anchor="middle" class="num">44</text>
<text x="549" y="573.3" text-anchor="middle" class="num">47</text>
<text x="601.5" y="573.3" text-anchor="middle" class="num">51</text>
<text x="649.5" y="573.3" text-anchor="middle" class="num">55</text>
<text x="703" y="573.3" text-anchor="middle" class="num">57</text>
<text x="755" y="573.3" text-anchor="middle" class="num">59</text>
<text x="808.5" y="573.3" text-anchor="middle" class="num">60</text>
<text x="858.5" y="573.3" text-anchor="middle" class="num">65</text>
<text x="912" y="573.3" text-anchor="middle" class="num">66</text>
<text x="963" y="573.3" text-anchor="middle" class="num">69</text>
<text x="1014" y="573.3" text-anchor="middle" class="num">74</text>
<text x="1068.5" y="573.3" text-anchor="middle" class="num">75</text>
<text x="1119.5" y="573.3" text-anchor="middle" class="num">77</text>
<text x="1173.5" y="573.3" text-anchor="middle" class="num">81</text>
<text x="1223.5" y="573.3" text-anchor="middle" class="num">85</text>
<text x="1278" y="573.3" text-anchor="middle" class="num">88</text>
<text x="1330" y="573.3" text-anchor="middle" class="num">90</text>
<text x="1379.5" y="573.3" text-anchor="middle" class="num">95</text>
<text x="1436" y="573.3" text-anchor="middle" class="num">107</text>
<text x="1487" y="573.3" text-anchor="middle" class="num">118</text>
<text x="1539.5" y="573.3" text-anchor="middle" class="num">121</text>
<text x="1592.5" y="573.3" text-anchor="middle" class="num">133</text>
<text x="1644" y="573.3" text-anchor="middle" class="num">137</text>
<text x="1699.5" y="573.3" text-anchor="middle" class="num">182</text>
<text x="1748" y="573.3" text-anchor="middle" class="num">197</text>
<text x="1803" y="573.3" text-anchor="middle" class="num">205</text>
<text x="1852" y="573.3" text-anchor="middle" class="num">208</text>
<text x="1906.5" y="573.3" text-anchor="middle" class="num">209</text>
<text x="1961" y="573.3" text-anchor="middle" class="num">238</text>
<text x="51.7" y="23" text-anchor="middle" class="ynum">1</text>
<text x="51.7" y="287.3" text-anchor="middle" class="ynum">0</text>
<text x="51.7" y="547" text-anchor="middle" class="ynum">-1</text>
<text x="333.83" y="500.9" class="el" textLength="14.73" lengthAdjust="spacingAndGlyphs">P</text>
<text x="897.15" y="502" class="el" textLength="29.23" lengthAdjust="spacingAndGlyphs">Zn</text>
<text x="1626.22" y="512.9" class="el" textLength="25.75" lengthAdjust="spacingAndGlyphs">Ba</text>
<text x="1839.46" y="520.8" class="el" textLength="29.69" lengthAdjust="spacingAndGlyphs">Pb</text>
<text x="1891.36" y="517.7" class="el" textLength="21.51" lengthAdjust="spacingAndGlyphs">Bi</text>
<text transform="translate(22.4,0) rotate(-90)" class="ylab"><tspan x="-512.02" textLength="101.61" lengthAdjust="spacingAndGlyphs">deviation</tspan> <tspan x="-406.28" textLength="56.98" lengthAdjust="spacingAndGlyphs">from</tspan> <tspan x="-344.21" textLength="84.71" lengthAdjust="spacingAndGlyphs">median</tspan> <tspan x="-251.21" textLength="21.01" lengthAdjust="spacingAndGlyphs">of</tspan> <tspan x="-226.32" textLength="98.49" lengthAdjust="spacingAndGlyphs">negative</tspan> <tspan x="-123.21" textLength="77.57" lengthAdjust="spacingAndGlyphs">donors</tspan></text>
</g>
</svg>
</body></html>
